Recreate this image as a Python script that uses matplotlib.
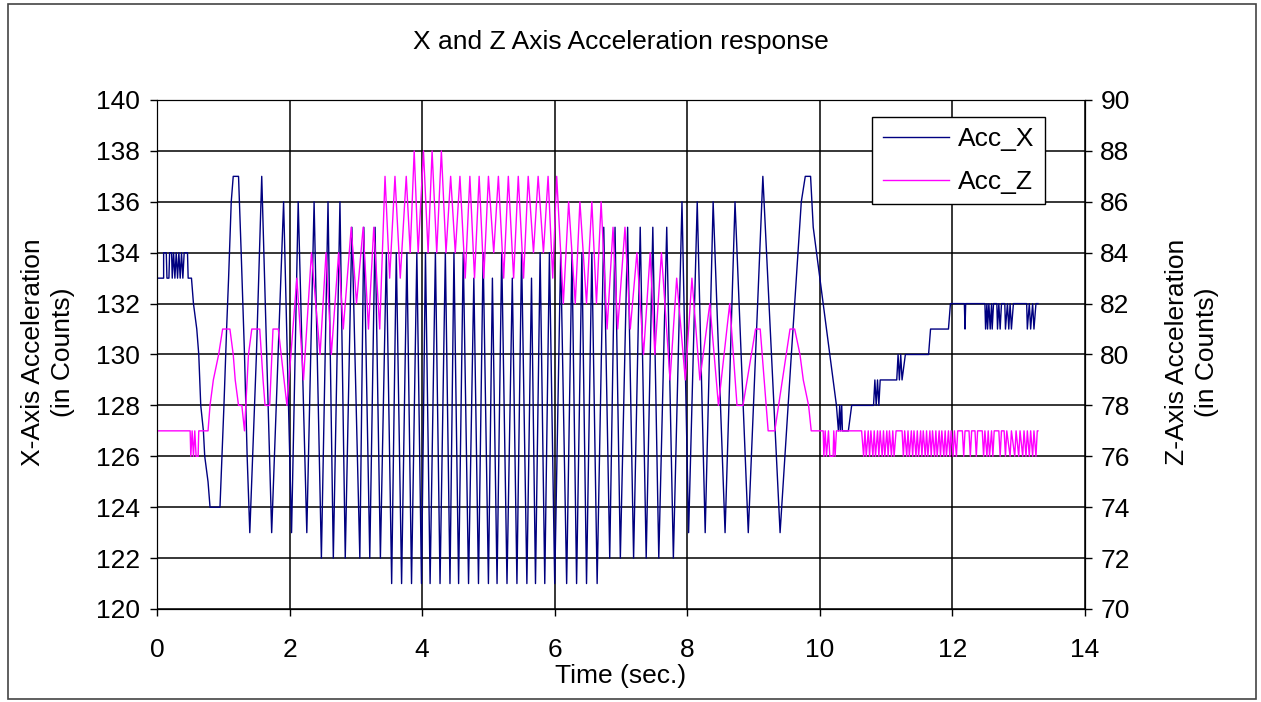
import matplotlib
matplotlib.use("Agg")
import matplotlib.pyplot as plt
from matplotlib.patches import Rectangle

plt.rcParams['font.family'] = ['Liberation Sans', 'DejaVu Sans']

# Acc_X turning points (time in s, counts)
x_time = [0.00, 0.10, 0.10, 0.14, 0.15, 0.18, 0.19, 0.22, 0.23, 0.25, 0.27, 0.29, 0.31, 0.33,
          0.35, 0.37, 0.39, 0.41, 0.46, 0.47, 0.52, 0.55, 0.60, 0.63, 0.66, 0.70, 0.72, 0.77,
          0.80, 0.95, 0.98, 1.01, 1.05, 1.08, 1.12, 1.15, 1.23, 1.27, 1.32, 1.36, 1.40, 1.50,
          1.58, 1.73, 1.91, 2.03, 2.13, 2.26, 2.37, 2.48, 2.58, 2.66, 2.76, 2.84, 2.94, 3.06,
          3.12, 3.21, 3.29, 3.37, 3.46, 3.54, 3.61, 3.69, 3.77, 3.84, 3.92, 3.99, 4.05, 4.12,
          4.20, 4.27, 4.35, 4.42, 4.48, 4.55, 4.62, 4.70, 4.78, 4.85, 4.92, 5.00, 5.06, 5.13,
          5.20, 5.28, 5.36, 5.43, 5.50, 5.58, 5.65, 5.71, 5.78, 5.85, 5.92, 6.00, 6.09, 6.18,
          6.26, 6.33, 6.41, 6.48, 6.56, 6.64, 6.74, 6.83, 6.91, 6.99, 7.10, 7.19, 7.29, 7.38,
          7.48, 7.57, 7.69, 7.79, 7.92, 8.02, 8.15, 8.27, 8.39, 8.57, 8.72, 8.92, 9.14, 9.40,
          9.57, 9.72, 9.78, 9.86, 9.90, 9.95, 10.00, 10.05, 10.10, 10.15, 10.20, 10.25, 10.28,
          10.30, 10.31, 10.33, 10.34, 10.43, 10.48, 10.81, 10.83, 10.85, 10.87, 10.89, 10.91,
          11.16, 11.18, 11.20, 11.22, 11.24, 11.29, 11.64, 11.67, 11.94, 11.97, 12.18, 12.19,
          12.20, 12.49, 12.50, 12.52, 12.53, 12.55, 12.57, 12.59, 12.60, 12.62, 12.67, 12.68,
          12.70, 12.72, 12.74, 12.79, 12.80, 12.83, 12.85, 12.87, 12.89, 12.92, 13.12, 13.13,
          13.16, 13.18, 13.21, 13.23, 13.26, 13.29]
x_vals = [133, 133, 134, 134, 133, 133, 134, 134, 133, 134, 133, 134, 133, 134,
          133, 134, 133, 134, 134, 133, 133, 132, 131, 130, 128, 127, 126, 125,
          124, 124, 126, 128, 131, 133, 136, 137, 137, 134, 130, 126, 123, 130,
          137, 123, 136, 123, 136, 123, 136, 122, 136, 122, 136, 122, 135, 122,
          135, 122, 135, 122, 134, 121, 134, 121, 134, 121, 134, 121, 134, 121,
          134, 121, 134, 121, 134, 121, 134, 121, 133, 121, 134, 121, 133, 121,
          134, 121, 133, 121, 134, 121, 133, 121, 134, 121, 134, 121, 134, 121,
          134, 121, 134, 121, 134, 121, 135, 122, 135, 122, 135, 122, 135, 122,
          135, 122, 135, 122, 136, 123, 136, 123, 136, 123, 136, 123, 137, 123,
          130, 136, 137, 137, 135, 134, 133, 132, 131, 130, 129, 128, 127,
          128, 127, 128, 127, 127, 128, 128, 129, 128, 129, 128, 129,
          129, 130, 129, 130, 129, 130, 130, 131, 131, 132, 132, 131,
          132, 132, 131, 132, 131, 132, 131, 132, 131, 132, 132, 131,
          132, 131, 132, 132, 131, 132, 131, 132, 131, 132, 132, 131,
          132, 131, 132, 131, 132, 132]

# Acc_Z turning points (time in s, counts)
z_time = [0.00, 0.50, 0.51, 0.53, 0.55, 0.57, 0.59, 0.62, 0.63, 0.77, 0.80, 0.85, 0.93, 0.99,
          1.10, 1.15, 1.18, 1.23, 1.28, 1.32, 1.38, 1.43, 1.55, 1.60, 1.63, 1.70, 1.75, 1.83,
          1.96, 2.11, 2.21, 2.33, 2.46, 2.55, 2.63, 2.74, 2.81, 2.93, 3.01, 3.11, 3.19, 3.27,
          3.36, 3.44, 3.51, 3.59, 3.67, 3.76, 3.82, 3.88, 3.94, 4.02, 4.09, 4.15, 4.22, 4.29,
          4.36, 4.43, 4.50, 4.57, 4.65, 4.72, 4.79, 4.86, 4.93, 5.00, 5.08, 5.15, 5.23, 5.30,
          5.38, 5.45, 5.53, 5.60, 5.68, 5.75, 5.83, 5.90, 5.97, 6.03, 6.13, 6.21, 6.31, 6.38,
          6.48, 6.56, 6.63, 6.70, 6.79, 6.88, 6.95, 7.06, 7.14, 7.24, 7.34, 7.44, 7.51, 7.61,
          7.74, 7.84, 7.97, 8.07, 8.19, 8.34, 8.47, 8.64, 8.75, 8.84, 9.03, 9.10, 9.22, 9.32,
          9.55, 9.62, 9.70, 9.75, 9.83, 9.87, 10.05, 10.06, 10.08, 10.10, 10.13, 10.15, 10.20,
          10.21, 10.23, 10.25, 10.63, 10.66, 10.68, 10.70, 10.73, 10.75, 10.77, 10.80, 10.82,
          10.84, 10.87, 10.89, 10.91, 10.94, 10.96, 10.98, 11.01, 11.03, 11.05, 11.08, 11.10,
          11.12, 11.15, 11.24, 11.26, 11.28, 11.31, 11.33, 11.35, 11.38, 11.40, 11.42, 11.45,
          11.47, 11.49, 11.52, 11.54, 11.56, 11.59, 11.61, 11.63, 11.66, 11.68, 11.70, 11.73,
          11.75, 11.77, 11.80, 11.82, 11.84, 11.87, 11.89, 11.91, 11.94, 11.96, 11.98, 12.01,
          12.03, 12.06, 12.08, 12.15, 12.17, 12.19, 12.25, 12.27, 12.29, 12.34, 12.36, 12.38,
          12.45, 12.47, 12.49, 12.52, 12.54, 12.56, 12.59, 12.61, 12.63, 12.70, 12.72, 12.74,
          12.78, 12.80, 12.82, 12.87, 12.89, 12.94, 12.96, 13.00, 13.02, 13.06, 13.08, 13.11,
          13.13, 13.16, 13.18, 13.21, 13.23, 13.26, 13.28, 13.29]
z_vals = [77, 77, 76, 77, 76, 77, 76, 76, 77, 77, 78, 79, 80, 81,
          81, 80, 79, 78, 78, 77, 80, 81, 81, 79, 78, 78, 81, 81,
          78, 83, 79, 84, 80, 84, 80, 84, 81, 85, 82, 85, 81, 85,
          81, 87, 83, 87, 83, 87, 84, 88, 84, 88, 84, 88, 84, 88,
          84, 87, 84, 87, 83, 87, 83, 87, 83, 87, 84, 87, 83, 87,
          83, 87, 83, 87, 84, 87, 84, 87, 83, 87, 82, 86, 82, 86,
          82, 86, 82, 86, 81, 85, 81, 85, 81, 84, 80, 84, 80, 84,
          79, 83, 79, 83, 79, 82, 78, 82, 78, 78, 81, 81, 77, 77,
          81, 81, 80, 79, 78, 77, 77, 76, 77, 76, 77, 76, 76,
          77, 76, 77, 77, 76, 77, 76, 77, 76, 77, 76, 77,
          76, 77, 76, 77, 76, 77, 76, 77, 76, 77, 76, 77,
          76, 77, 77, 76, 77, 76, 77, 76, 77, 76, 77, 76,
          77, 76, 77, 76, 77, 76, 77, 76, 77, 76, 77, 76,
          77, 76, 77, 76, 77, 76, 77, 76, 77, 76, 77, 76,
          77, 76, 77, 77, 76, 77, 77, 76, 77, 77, 76, 77,
          77, 76, 77, 76, 77, 76, 77, 76, 77, 77, 76, 77,
          77, 76, 77, 76, 77, 76, 77, 76, 77, 76, 77, 76,
          77, 76, 77, 76, 77, 76, 77, 77]

W, H = 1261, 702
fs = 19

fig = plt.figure(figsize=(W / 100, H / 100), dpi=100)
fig.patches.append(Rectangle((0.006, 0.004), 0.99, 0.99, transform=fig.transFigure,
                             fill=False, edgecolor='#444444', linewidth=1.2))

ax = fig.add_axes([157 / W, 1 - 609 / H, (1085 - 157) / W, (609 - 100) / H])
ax.plot(x_time, x_vals, color='#000080', linewidth=1.0, label='Acc_X')
ax.set_xlim(0, 14)
ax.set_ylim(120, 140)
ax.set_xticks(range(0, 15, 2))
ax.set_yticks(range(120, 141, 2))
ax.grid(True, color='black', linewidth=1.1)
ax.set_axisbelow(True)
ax.tick_params(direction='out', length=5, width=1, labelsize=fs)
ax.tick_params(axis='y', pad=7)
ax.tick_params(axis='x', pad=16)

ax2 = ax.twinx()
ax2.plot(z_time, z_vals, color='#FF00FF', linewidth=1.0, label='Acc_Z')
ax2.set_ylim(70, 90)
ax2.set_yticks(range(70, 91, 2))
ax2.tick_params(direction='out', length=5, width=1, labelsize=fs, pad=6)

fig.text(621 / W, 1 - 42 / H, 'X and Z Axis Acceleration response', fontsize=fs,
         ha='center', va='center')
fig.text(621 / W, 1 - 676 / H, 'Time (sec.)', fontsize=fs, ha='center', va='center')
fig.text(48 / W, 1 - 352 / H, 'X-Axis Acceleration\n(in Counts)', fontsize=fs,
         ha='center', va='center', rotation=90, multialignment='center', linespacing=1.35)
fig.text(1192 / W, 1 - 352 / H, 'Z-Axis Acceleration\n(in Counts)', fontsize=fs,
         ha='center', va='center', rotation=90, multialignment='center', linespacing=1.35)

h1, l1 = ax.get_legend_handles_labels()
h2, l2 = ax2.get_legend_handles_labels()
leg = ax2.legend(h1 + h2, l1 + l2, loc='upper right', bbox_to_anchor=(0.957, 0.967),
                 fontsize=fs, fancybox=False, edgecolor='black', framealpha=1,
                 handlelength=2.5, handletextpad=0.35, borderpad=0.4,
                 labelspacing=0.7, borderaxespad=0)
leg.get_frame().set_linewidth(1.0)

fig.savefig('out.png', dpi=100)
